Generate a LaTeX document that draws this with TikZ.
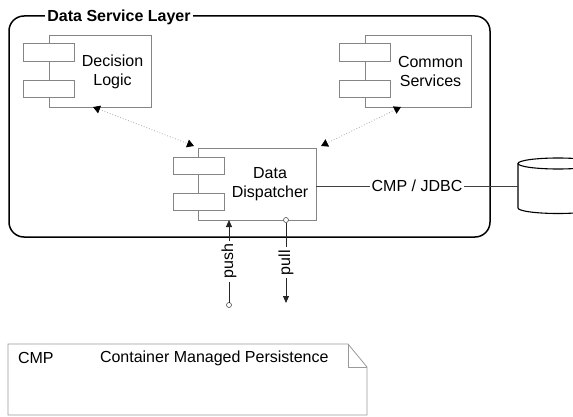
\documentclass[tikz,border=0pt]{standalone}
\usepackage{fontspec}
\setmainfont{Liberation Sans}
\usetikzlibrary{arrows.meta,calc}
\definecolor{compgray}{HTML}{858585}
\definecolor{dotgray}{HTML}{A8A8A8}
\definecolor{notegray}{HTML}{9A9A9A}
\begin{document}
\begin{tikzpicture}[x=1pt,y=-1pt,
  every node/.style={outer sep=0pt},
  txt/.style={font=\fontsize{16pt}{19pt}\selectfont, inner sep=0pt, align=center},
  compbox/.style={draw=compgray, line width=0.8pt, fill=white, inner sep=0pt},
  subbox/.style={draw=compgray, line width=0.8pt, fill=white, inner sep=0pt, minimum width=51pt, minimum height=17.5pt},
  frame/.style={draw=black, line width=1.5pt, rounded corners=15pt, inner sep=0pt},
  dotconn/.style={draw=dotgray, line width=0.8pt, dotted, {Triangle[length=7pt,width=8pt,color=black]}-{Triangle[length=7pt,width=8pt,color=black]}},
  portc/.style={circle, draw=black!70, fill=white, line width=0.6pt, inner sep=0pt, minimum size=5pt},
  flow/.style={draw=black!85, line width=0.8pt},
  tip/.style={-{Triangle[length=7pt,width=6pt]}},
]
\useasboundingbox (0,0) rectangle (573,417);

% outer frame
\node[frame, minimum width=481pt, minimum height=221pt] (DSL) at (249.5,126.5) {};
\node[txt, font=\fontsize{16pt}{19pt}\selectfont\bfseries, fill=white, inner xsep=2pt, inner ysep=1pt] (title) at ([xshift=110pt,yshift=-1pt]DSL.north west) {Data Service Layer};

% Decision Logic
\node[compbox, minimum width=102pt, minimum height=72pt] (DL) at (100,71) {};
\node[subbox] (DL1) at (48.5,52.5) {};
\node[subbox] (DL2) at (48.5,89) {};
\node[txt] (DLt) at (112.5,71.5) {Decision\\Logic};

% Common Services
\node[compbox, minimum width=106pt, minimum height=72pt] (CS) at (418,71) {};
\node[subbox] (CS1) at (364.5,52.5) {};
\node[subbox] (CS2) at (364.5,89) {};
\node[txt] (CSt) at (430.5,71.5) {Common\\Services};

% Data Dispatcher
\node[compbox, minimum width=118pt, minimum height=72pt] (DD) at (257,184) {};
\node[subbox] (DD1) at (198.5,166) {};
\node[subbox] (DD2) at (198.5,202) {};
\node[txt] (DDt) at (270,184.5) {Data\\Dispatcher};

% dotted dependencies
\draw[dotconn] ([xshift=-7pt]DL.south) -- ([xshift=-4pt,yshift=2pt]DD.north west);
\draw[dotconn] ([xshift=-17pt]CS.south) -- ([xshift=5pt,yshift=2pt]DD.north east);

% database
\node[inner sep=0pt, minimum width=80pt, minimum height=55pt] (DB) at (558,186) {};
\draw[black, line width=1.1pt] (518,163.5) -- (518,208) arc[start angle=180, end angle=360, x radius=40pt, y radius=5.5pt] -- (598,163.5);
\draw[black, line width=1.1pt] (558,163.5) ellipse[x radius=40pt, y radius=5.5pt];

\draw[draw=black!75, line width=0.8pt] (DD.east |- DB.west) -- node[txt, fill=white, inner xsep=2pt, pos=0.5] (jdbc) {CMP / JDBC} (DB.west);

% push / pull
\node[portc] (pushin) at (229,305) {};
\draw[flow, tip] (pushin) -- node[txt, fill=white, rotate=90, inner xsep=3pt] (pushl) {push} ([xshift=-28pt]DD.south);
\node[portc] (pullp) at ([xshift=29pt]DD.south) {};
\coordinate (pullout) at (286,303);
\draw[flow, tip] (pullp) -- node[txt, fill=white, rotate=90, inner xsep=3pt] (pulll) {pull} (pullout);

% note
\draw[draw=notegray, line width=0.8pt, fill=white] (8,344) -- (348,344) -- (367,367) -- (367,415) -- (8,415) -- cycle;
\draw[draw=notegray, line width=0.8pt] (348,344) -- (348,367) -- (367,367);
\node[txt, anchor=west] (cmp) at (18,358) {CMP};
\node[txt, anchor=west] (cmpdef) at (100,358) {Container Managed Persistence};
\end{tikzpicture}
\end{document}
